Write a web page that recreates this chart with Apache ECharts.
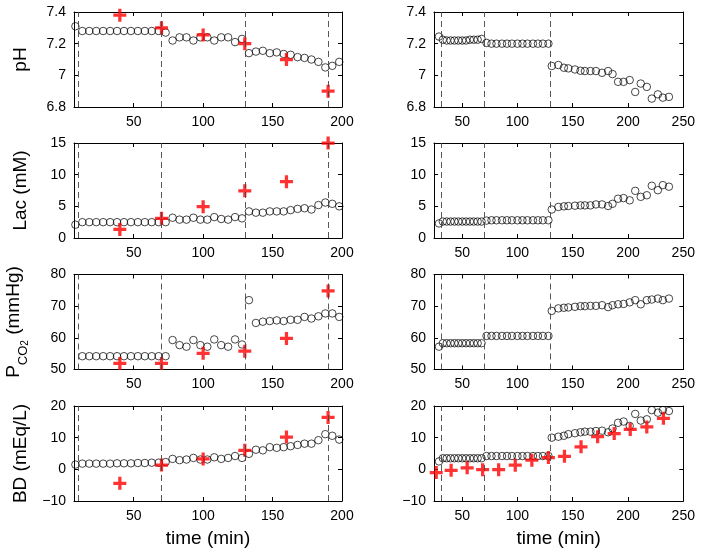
<!DOCTYPE html>
<html><head><meta charset="utf-8">
<script src="https://cdn.jsdelivr.net/npm/echarts@6/dist/echarts.min.js"></script>
<style>html,body{margin:0;padding:0;background:#fff}#c{width:701px;height:554px}</style>
</head><body><div id="c"></div>
<script>
// ---------- data ----------
const tLeft = [8,13,18,23,28,33,38,43,48,53,58,63,68,
  73,78,83,88,93,98,103,108,113,118,123,128,
  133,138,143,148,153,158,163,168,173,178,183,188,193,198];
const phLeft = [7.31,7.28,7.28,7.28,7.28,7.28,7.28,7.28,7.28,7.28,7.28,7.28,7.28,
  7.27,7.22,7.24,7.24,7.22,7.24,7.24,7.22,7.24,7.24,7.21,7.23,
  7.14,7.15,7.155,7.14,7.145,7.135,7.13,7.115,7.11,7.10,7.085,7.05,7.06,7.085];
const lacLeft = [2.1,2.5,2.5,2.5,2.5,2.5,2.5,2.5,2.5,2.5,2.5,2.5,2.5,
  2.5,3.2,2.9,2.9,3.2,2.9,2.9,3.3,3.0,2.9,3.3,3.1,
  4.2,4.0,4.0,4.2,4.2,4.2,4.4,4.6,4.7,4.5,5.2,5.6,5.4,5.0];
const pco2Left = [null,54.2,54.2,54.2,54.2,54.2,54.2,54.2,54.2,54.2,54.2,54.2,54.2,
  54.2,59.3,57.7,57.2,59.3,57.7,57.2,59.5,57.7,57.2,59.5,57.9,
  71.9,64.7,65.1,65.3,65.5,65.3,65.7,65.7,66.6,66.1,66.8,67.7,67.7,66.6];
const bdLeft = [1.5,1.8,1.8,1.8,1.8,1.8,1.9,1.9,1.9,2.0,2.0,2.1,2.1,
  2.3,3.3,2.9,3.1,3.6,3.1,3.1,3.8,3.3,3.6,4.2,3.6,
  4.9,6.2,6.0,7.0,6.8,7.0,7.3,7.7,8.1,8.1,9.2,11.1,10.6,9.4];

const labTimeLeft = [40,70,100,130,160,190];
const phLabLeft = [7.38,7.30,7.255,7.20,7.10,6.90];
const lacLabLeft = [1.35,3.1,4.95,7.45,8.9,15.0];
const pco2LabLeft = [51.9,51.9,55.1,55.8,59.8,74.8];
const bdLabLeft = [-4.4,1.35,3.3,6.0,10.2,16.4];

const tRight = [29,32.5,36,39.5,43,46.5,50,53.5,57,60.5,64,67.5,
  72,76.5,81,86,90.5,95,100,104.5,109,114,118.5,123,128,
  131,137,142,146,152,157,161,166,171,176.5,182,186,191,196,201.5,206.5,211.5,217,221.5,227,231.5,237];
const phRight = [7.245,7.225,7.22,7.22,7.22,7.22,7.22,7.22,7.225,7.225,7.225,7.23,
  7.205,7.2,7.2,7.2,7.2,7.2,7.2,7.2,7.2,7.2,7.2,7.2,7.2,
  7.059,7.065,7.048,7.044,7.037,7.029,7.027,7.027,7.027,7.016,7.027,7.008,6.959,6.959,6.97,6.895,6.948,6.927,6.853,6.88,6.859,6.864];
const lacRight = [2.3,2.6,2.6,2.6,2.6,2.6,2.6,2.6,2.6,2.6,2.6,2.6,
  2.75,2.8,2.8,2.8,2.8,2.8,2.8,2.8,2.8,2.8,2.8,2.8,2.8,
  4.5,4.9,5.0,5.05,5.1,5.15,5.15,5.15,5.3,5.3,5.05,5.4,6.2,6.3,5.95,7.45,6.5,6.75,8.25,7.55,8.35,8.1];
const pco2Right = [57.2,58.3,58.3,58.3,58.3,58.3,58.3,58.3,58.3,58.3,58.3,58.3,
  60.6,60.6,60.6,60.6,60.6,60.6,60.6,60.6,60.6,60.6,60.6,60.6,60.6,
  68.5,69.3,69.5,69.6,69.8,70.0,70.0,70.1,70.1,70.3,69.7,70.3,70.6,70.7,71.2,71.9,70.6,71.9,72.1,72.4,71.9,72.4];
const bdRight = [2.5,3.5,3.5,3.5,3.5,3.5,3.5,3.5,3.5,3.5,3.5,3.5,
  4.2,4.2,4.2,4.2,4.2,4.2,4.2,4.2,4.2,4.2,4.2,4.2,4.2,
  10.0,10.3,10.6,11.1,11.4,11.7,11.9,11.9,12.1,12.2,11.7,12.9,14.7,15.1,13.7,17.5,15.4,15.8,18.7,17.9,18.7,18.4];

const labTimeRight = [26.5,40,54.5,68.5,83,98,113,128,142.5,157.5,172.5,187.5,202,217,232];
const bdLabRight = [-1.0,-0.3,0.5,-0.1,-0.1,1.3,2.9,3.7,4.1,7.1,10.3,11.3,12.6,13.4,16.1];

const xTicksLeft = [50,100,150,200];
const xTicksRight = [50,100,150,200,250];
const eventTimesLeft = [10,70,130,190];
const eventTimesRight = [31,70,130];
const phTicks = [6.8,7,7.2,7.4];
const lacTicks = [0,5,10,15];
const pco2Ticks = [50,60,70,80];
const bdTicks = [-10,0,10,20];

// ---------- layout ----------
const FONT = 'Liberation Sans, Arial, Helvetica, sans-serif';
const colLeft = [74, 434];
const colWidth = [268, 249.3];
const colXMin = [7, 24.5];
const colXMax = [200, 250];
const rowTop = [12, 143, 274.5, 406];
const rowH = 95;

const rows = [
  {ticks: phTicks, name: 'pH', L: phLeft, R: phRight, labL: phLabLeft, labR: null},
  {ticks: lacTicks, name: 'Lac (mM)', L: lacLeft, R: lacRight, labL: lacLabLeft, labR: null},
  {ticks: pco2Ticks, name: '{p|P}{s|CO}{ss|2}{p| (mmHg)}', L: pco2Left, R: pco2Right, labL: pco2LabLeft, labR: null},
  {ticks: bdTicks, name: 'BD (mEq/L)', L: bdLeft, R: bdRight, labL: bdLabLeft, labR: bdLabRight}
];

function pairs(t, v) {
  const out = [];
  t.forEach((x, i) => { if (v[i] !== null && v[i] !== undefined) out.push([x, v[i]]); });
  return out;
}
const fmtY = v => String(Math.round(v * 10) / 10).replace('-', '\u2212');
const crossPath = 'path://M9,0h6v9h9v6h-9v9h-6v-9h-9v-6h9z';

const grid = [], xAxis = [], yAxis = [], series = [];
let g = 0;
rows.forEach((row, r) => {
  [0, 1].forEach(c => {
    const xMin = colXMin[c], xMax = colXMax[c];
    const xTicks = c === 0 ? xTicksLeft : xTicksRight;
    grid.push({left: colLeft[c], top: rowTop[r], width: colWidth[c], height: rowH});
    const axLine = {show: true, onZero: false, lineStyle: {color: '#000', width: 1}};
    xAxis.push({
      type: 'value', gridIndex: g, min: xMin, max: xMax, position: 'bottom',
      axisLine: axLine, splitLine: {show: false},
      axisTick: {show: true, inside: true, length: 4, customValues: xTicks, lineStyle: {color: '#000'}},
      axisLabel: {show: true, customValues: xTicks, color: '#000', fontSize: 14, fontFamily: FONT, margin: 8},
      name: r === 3 ? 'time (min)' : '', nameLocation: 'middle', nameGap: 28,
      nameTextStyle: {fontSize: 19, color: '#000', fontFamily: FONT}
    });
    xAxis.push({
      type: 'value', gridIndex: g, min: xMin, max: xMax, position: 'top',
      axisLine: axLine, splitLine: {show: false},
      axisTick: {show: true, inside: true, length: 4, customValues: xTicks, lineStyle: {color: '#000'}},
      axisLabel: {show: false}
    });
    const yMin = row.ticks[0], yMax = row.ticks[row.ticks.length - 1];
    yAxis.push({
      type: 'value', gridIndex: g, min: yMin, max: yMax, position: 'left',
      axisLine: axLine, splitLine: {show: false},
      axisTick: {show: true, inside: true, length: 4, customValues: row.ticks, lineStyle: {color: '#000'}},
      axisLabel: {show: true, customValues: row.ticks, formatter: fmtY, color: '#000', fontSize: 14, fontFamily: FONT, margin: 8},
      name: c === 0 ? row.name : '', nameLocation: 'middle', nameRotate: 90, nameGap: 44,
      nameTextStyle: {fontSize: 19, color: '#000', fontFamily: FONT,
        rich: {
          p: {fontSize: 19, fontFamily: FONT, color: '#000', lineHeight: 32, verticalAlign: 'middle'},
          s: {fontSize: 13, fontFamily: FONT, color: '#000', lineHeight: 13, verticalAlign: 'bottom'},
          ss: {fontSize: 10, fontFamily: FONT, color: '#000', lineHeight: 7, verticalAlign: 'bottom'}
        }}
    });
    yAxis.push({
      type: 'value', gridIndex: g, min: yMin, max: yMax, position: 'right',
      axisLine: axLine, splitLine: {show: false},
      axisTick: {show: true, inside: true, length: 4, customValues: row.ticks, lineStyle: {color: '#000'}},
      axisLabel: {show: false}
    });
    const ev = c === 0 ? eventTimesLeft : eventTimesRight;
    series.push({
      type: 'scatter', xAxisIndex: 2 * g, yAxisIndex: 2 * g,
      data: pairs(c === 0 ? tLeft : tRight, c === 0 ? row.L : row.R),
      symbol: 'circle', symbolSize: 7.5,
      itemStyle: {color: 'rgba(0,0,0,0)', borderColor: '#000', borderWidth: 0.9},
      silent: true,
      markLine: {
        silent: true, symbol: ['none', 'none'], label: {show: false},
        lineStyle: {color: '#444', width: 0.9, type: [6, 4]},
        data: ev.map(v => ({xAxis: v}))
      }
    });
    const lab = c === 0 ? row.labL : row.labR;
    if (lab) {
      series.push({
        type: 'scatter', xAxisIndex: 2 * g, yAxisIndex: 2 * g,
        data: pairs(c === 0 ? labTimeLeft : labTimeRight, lab),
        symbol: crossPath, symbolSize: 13, z: 3,
        itemStyle: {color: '#ff0000'}, silent: true
      });
    }
    g++;
  });
});

const chart = echarts.init(document.getElementById('c'), null, {renderer: 'canvas'});
chart.setOption({backgroundColor: '#fff', animation: false, grid, xAxis, yAxis, series});
</script></body></html>
